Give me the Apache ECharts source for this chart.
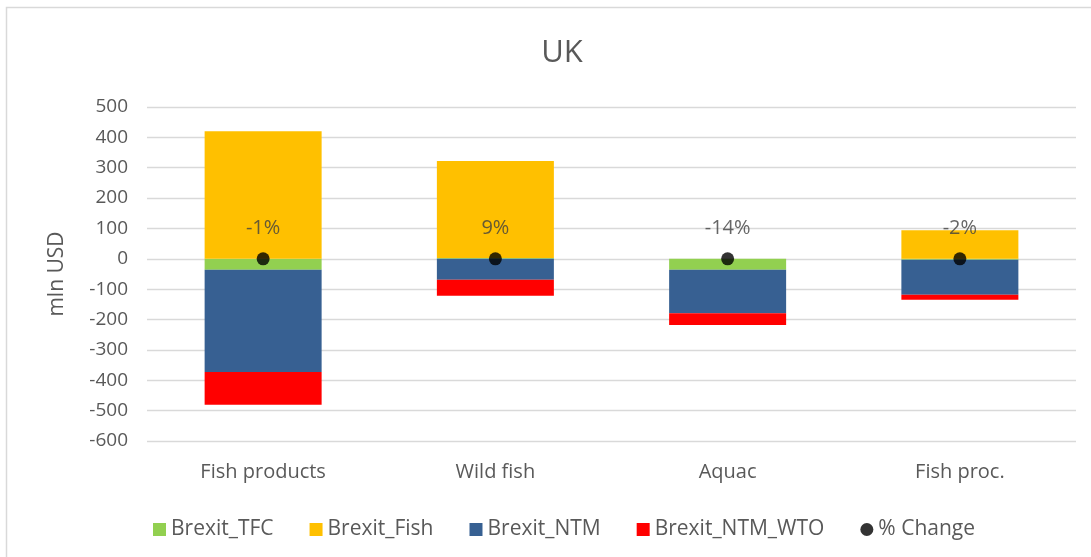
<!DOCTYPE html>
<html>
<head>
<meta charset="utf-8">
<script src="https://cdn.jsdelivr.net/npm/echarts@6/dist/echarts.min.js"></script>
<style>
html,body{margin:0;padding:0;background:#fff;}
#c{width:1091px;height:557px;}
</style>
</head>
<body>
<div id="c"></div>
<script>
var categories = ['Fish products', 'Wild fish', 'Aquac', 'Fish proc.'];
var brexitTFC = [-36, 3, -36, -3];
var brexitFish = [420, 319, 0, 94];
var brexitNTM = [-337, -69, -143, -115];
var brexitNTMWTO = [-108, -53, -39, -17];
var pctChange = [-1, 9, -14, -2];
var pctPosition = [0, 0, 0, 0];
var yTicks = {min: -600, max: 500, interval: 100};

var chart = echarts.init(document.getElementById('c'), null, {renderer: 'canvas'});
var txt = '#595959';
var font = 'Open Sans';
function barSeries(name, data, color) {
  return {
    name: name, type: 'bar', stack: 'total', data: data, barWidth: 117,
    itemStyle: {color: color}, emphasis: {disabled: true}
  };
}
chart.setOption({
  animation: false,
  backgroundColor: '#fff',
  textStyle: {fontFamily: font},
  title: {
    text: 'UK', left: 557, top: 33, textAlign: 'center',
    textStyle: {fontSize: 31, fontWeight: 'normal', color: txt, fontFamily: font}
  },
  graphic: [{
    type: 'rect', shape: {x: 6.5, y: 7.5, width: 1200, height: 700},
    style: {fill: 'none', stroke: '#d9d9d9', lineWidth: 1.5}, silent: true, z: -1
  }],
  legend: {
    left: 148, top: 514, itemWidth: 13, itemHeight: 13, itemGap: 36,
    textStyle: {fontSize: 21, color: txt, fontFamily: font},
    data: [
      {name: 'Brexit_TFC', icon: 'rect'},
      {name: 'Brexit_Fish', icon: 'rect'},
      {name: 'Brexit_NTM', icon: 'rect'},
      {name: 'Brexit_NTM_WTO', icon: 'rect'},
      {name: '% Change', icon: 'circle', itemStyle: {color: '#000'}}
    ]
  },
  grid: {left: 147, right: 15, top: 107, bottom: 116, containLabel: false},
  xAxis: {
    type: 'category', data: categories,
    axisLine: {show: false}, axisTick: {show: false},
    axisLabel: {fontSize: 20, color: txt, margin: 21, fontFamily: font},
    position: 'bottom'
  },
  yAxis: {
    type: 'value', min: yTicks.min, max: yTicks.max, interval: yTicks.interval,
    name: 'mln USD', nameLocation: 'middle', nameGap: 79, nameRotate: 90,
    nameTextStyle: {fontSize: 21, color: txt, fontFamily: font},
    axisLine: {show: false}, axisTick: {show: false},
    axisLabel: {fontSize: 19, color: txt, margin: 19, fontFamily: font},
    splitLine: {lineStyle: {color: '#d9d9d9', width: 1.3}}
  },
  series: [
    barSeries('Brexit_TFC', brexitTFC, '#92d050'),
    barSeries('Brexit_Fish', brexitFish, '#ffc000'),
    barSeries('Brexit_NTM', brexitNTM, '#376092'),
    barSeries('Brexit_NTM_WTO', brexitNTMWTO, '#ff0000'),
    {
      name: '% Change', type: 'scatter', symbolSize: 13, z: 10,
      itemStyle: {color: '#000'},
      data: pctPosition.map(function (v, i) { return {value: v, pct: pctChange[i]}; }),
      label: {
        show: true, position: 'top', distance: 14, fontSize: 20, color: '#404040', fontFamily: font,
        formatter: function (p) { return pctChange[p.dataIndex] + '%'; }
      },
      emphasis: {disabled: true}
    }
  ]
});
</script>
</body>
</html>
